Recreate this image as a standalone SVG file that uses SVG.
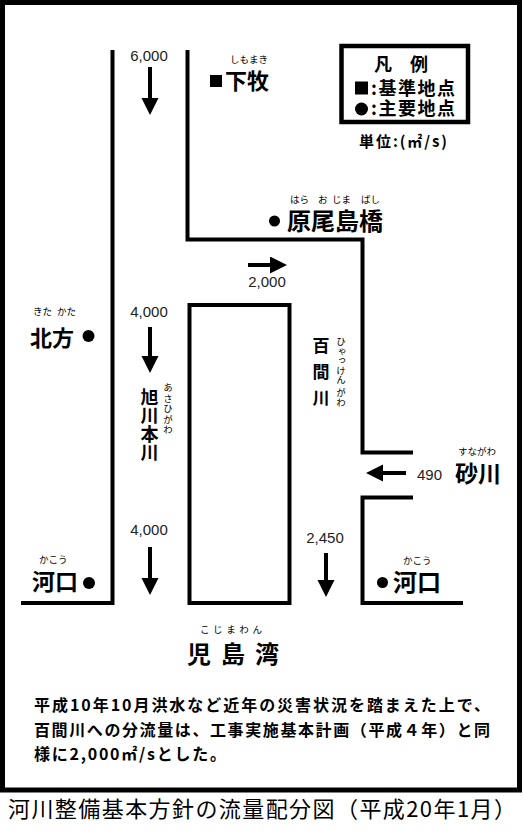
<svg xmlns="http://www.w3.org/2000/svg" width="524" height="831" viewBox="0 0 524 831">
<style>
.ln{fill:none;stroke:#000;stroke-width:4;stroke-linecap:butt;stroke-linejoin:miter}
.ar{fill:none;stroke:#000;stroke-width:4;marker-end:url(#ah)}
.num{font-family:"Liberation Sans",Arial,sans-serif;font-size:15px;fill:#222}
.jp{font-family:"Noto Sans CJK JP","Noto Sans",sans-serif;font-weight:bold;fill:#000}
.rb{font-family:"Noto Sans CJK JP","Noto Sans",sans-serif;font-size:9.5px;fill:#000}
.vt{writing-mode:vertical-rl;text-orientation:upright}
.cap{font-family:"Noto Sans CJK JP","Noto Sans",sans-serif;font-size:22px;fill:#000}
</style>
<defs>
<marker id="ah" markerUnits="userSpaceOnUse" markerWidth="18" markerHeight="18" refX="7" refY="8.5" orient="auto">
<path d="M0,0 L17,8.5 L0,17 z" fill="#000"/>
</marker>
</defs>
<rect x="0" y="0" width="524" height="831" fill="#fff"/>
<rect id="frame" x="2.5" y="2.5" width="517" height="787.5" fill="none" stroke="#000" stroke-width="5"/>

<g id="connectors">
<polyline class="ln" points="112.5,50 112.5,603 21,603"/>
<polyline class="ln" points="187.5,50 187.5,239.5 362.5,239.5 362.5,452.5 413,452.5"/>
<polyline class="ln" points="413,497.5 362.5,497.5 362.5,603 463,603"/>
<rect class="ln" x="189.5" y="305" width="100" height="298"/>
<line class="ar" x1="150" y1="67" x2="150" y2="105"/>
<line class="ar" x1="248" y1="265" x2="277" y2="265"/>
<line class="ar" x1="150" y1="327" x2="150" y2="363"/>
<line class="ar" x1="406" y1="473" x2="376" y2="473"/>
<line class="ar" x1="326" y1="553" x2="326" y2="587"/>
<line class="ar" x1="150" y1="547" x2="150" y2="585"/>
</g>

<g id="flow-6000"><text class="num" x="149" y="61" text-anchor="middle">6,000</text></g>
<g id="shimomaki">
<text class="rb" x="230" y="63">しもまき</text>
<rect x="210" y="75" width="12" height="12" fill="#000"/>
<text class="jp" x="225" y="88.5" font-size="22">下牧</text>
</g>

<g id="legend">
<rect x="341.5" y="46" width="126.5" height="76" fill="none" stroke="#000" stroke-width="4.5"/>
<text class="jp" x="374" y="71" font-size="18">凡　例</text>
<rect x="355" y="81.5" width="13" height="13" fill="#000"/>
<text class="jp" x="371" y="94.5" font-size="18" textLength="84" lengthAdjust="spacing">:基準地点</text>
<circle cx="361.5" cy="109" r="6.5" fill="#000"/>
<text class="jp" x="371" y="114.5" font-size="18" textLength="84" lengthAdjust="spacing">:主要地点</text>
<text class="jp" x="359" y="147" font-size="15" textLength="88" lengthAdjust="spacing">単位:(㎡/s)</text>
</g>

<g id="haraojimabashi">
<text class="rb" x="290" y="203" font-size="9">はら</text>
<text class="rb" x="318" y="203" font-size="9">お</text>
<text class="rb" x="332" y="203" font-size="9">じま</text>
<text class="rb" x="361" y="203" font-size="9">ばし</text>
<circle cx="274.5" cy="221" r="5.5" fill="#000"/>
<text class="jp" x="287" y="230" font-size="24">原尾島橋</text>
</g>
<g id="flow-2000"><text class="num" x="267" y="287" text-anchor="middle">2,000</text></g>

<g id="kitakata">
<text class="rb" x="33" y="315" font-size="9">きた</text>
<text class="rb" x="57" y="315" font-size="9">かた</text>
<text class="jp" x="30" y="345.5" font-size="22">北方</text>
<circle cx="88.5" cy="336" r="6" fill="#000"/>
</g>

<g id="flow-4000-upper"><text class="num" x="149" y="317" text-anchor="middle">4,000</text></g>

<g id="asahigawa">
<text class="jp vt" x="149.5" y="388" font-size="18" letter-spacing="0.5">旭川本川</text>
<text class="rb vt" x="168" y="383" letter-spacing="1">あさひがわ</text>
</g>

<g id="hyakkengawa">
<text class="jp vt" x="321" y="337" font-size="17" letter-spacing="9">百間川</text>
<text class="rb vt" x="341" y="337" font-size="9">ひゃっけん</text>
<text class="rb vt" x="341" y="388" font-size="9">がわ</text>
</g>

<g id="sunagawa">
<text class="num" x="417" y="480">490</text>
<text class="rb" x="458" y="455" font-size="10.5">すながわ</text>
<text class="jp" x="455" y="482" font-size="23">砂川</text>
</g>

<g id="flow-2450"><text class="num" x="325" y="543" text-anchor="middle">2,450</text></g>

<g id="kakou-right">
<text class="rb" x="403" y="564">かこう</text>
<circle cx="382.5" cy="582.5" r="5.5" fill="#000"/>
<text class="jp" x="393" y="591" font-size="24">河口</text>
</g>

<g id="flow-4000-lower"><text class="num" x="149" y="535" text-anchor="middle">4,000</text></g>

<g id="kakou-left">
<text class="rb" x="39" y="563">かこう</text>
<text class="jp" x="32" y="590" font-size="23">河口</text>
<circle cx="89" cy="583" r="6" fill="#000"/>
</g>

<g id="kojimawan">
<text class="rb" x="200" y="633" textLength="62" lengthAdjust="spacing">こじまわん</text>
<text class="jp" x="187" y="663" font-size="24">児</text>
<text class="jp" x="221" y="663" font-size="24">島</text>
<text class="jp" x="255" y="663" font-size="24">湾</text>
</g>

<g id="note">
<text class="jp" x="34" y="711" font-size="16" textLength="456" lengthAdjust="spacing">平成10年10月洪水など近年の災害状況を踏まえた上で、</text>
<text class="jp" x="34" y="736" font-size="16" textLength="456" lengthAdjust="spacing">百間川への分流量は、工事実施基本計画（平成４年）と同</text>
<text class="jp" x="34" y="760" font-size="16" textLength="192" lengthAdjust="spacing">様に2,000㎡/sとした。</text>
</g>

<g id="caption">
<text class="cap" x="8" y="817" textLength="508" lengthAdjust="spacing">河川整備基本方針の流量配分図（平成20年1月）</text>
</g>
</svg>
